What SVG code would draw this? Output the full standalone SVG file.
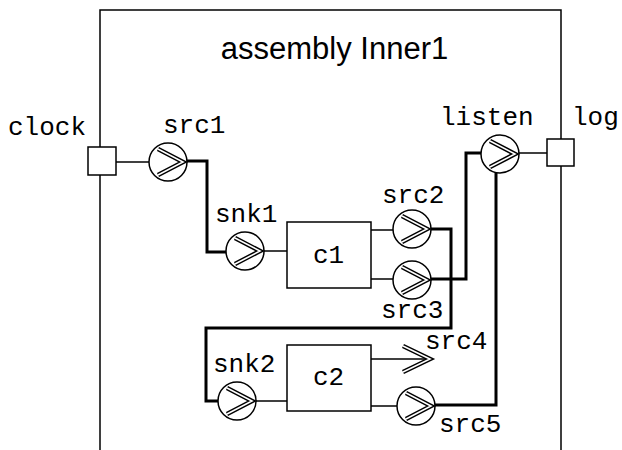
<svg xmlns="http://www.w3.org/2000/svg" width="622" height="450" viewBox="0 0 622 450">
<style>
.lbl{font-family:"Liberation Mono","DejaVu Sans Mono",monospace;font-size:26px;fill:#000}
.title{font-family:"Liberation Sans",Arial,sans-serif;font-size:31px;fill:#000;text-anchor:middle}
.thin{fill:none;stroke:#000;stroke-width:1.5}
.thick{fill:none;stroke:#000;stroke-width:3}
.box{fill:#fff;stroke:#000;stroke-width:1.5}
.circ{fill:#fff;stroke:#000;stroke-width:1.5}
.chevo{fill:none;stroke:#000;stroke-width:4.5;stroke-linejoin:miter}
.chevi{fill:none;stroke:#fff;stroke-width:1.6;stroke-linejoin:miter}
</style>
<defs>
<g id="port">
<circle class="circ" cx="0" cy="0" r="19"/>
<path class="chevo" d="M-10,-13 L15,0 L-10,13"/>
<path class="chevi" d="M-10,-13 L15,0 L-10,13"/>
</g>
</defs>
<rect width="622" height="450" fill="#fff"/>
<g id="assembly">
<path class="thin" d="M100,460 V10 H561 V460"/>
<text class="title" x="334.5" y="59">assembly Inner1</text>
</g>
<g id="connectors">
<path class="thin" d="M116,162 H149"/>
<path class="thin" d="M519,153 H547"/>
<path class="thin" d="M264,251 H287"/>
<path class="thin" d="M371,230 H393"/>
<path class="thin" d="M371,279 H393"/>
<path class="thin" d="M256,401 H287"/>
<path class="thin" d="M371,359 H428"/>
<path class="thin" d="M371,406 H397"/>
<path class="thick" d="M187,161 H207 V252 H226"/>
<path class="thick" d="M431,229 H451 V328 H206 V401 H218"/>
<path class="thick" d="M431,279 H466 V153 H481"/>
<path class="thick" d="M435,405 H496 V173"/>
</g>
<g id="clock">
<rect class="box" x="88" y="147" width="28" height="28"/>
<text class="lbl" x="8" y="135">clock</text>
</g>
<g id="log">
<rect class="box" x="547" y="139" width="27" height="27"/>
<text class="lbl" x="572" y="125">log</text>
</g>
<g id="src1">
<use href="#port" x="168" y="162"/>
<text class="lbl" x="163" y="133">src1</text>
</g>
<g id="snk1">
<use href="#port" x="245" y="251"/>
<text class="lbl" x="215" y="222">snk1</text>
</g>
<g id="c1">
<rect class="box" x="287" y="222" width="84" height="66"/>
<text class="lbl" x="313" y="263">c1</text>
</g>
<g id="src2">
<use href="#port" x="412" y="229"/>
<text class="lbl" x="382" y="203">src2</text>
</g>
<g id="src3">
<use href="#port" x="412" y="280"/>
<text class="lbl" x="381" y="318">src3</text>
</g>
<g id="listen">
<use href="#port" x="500" y="154"/>
<text class="lbl" x="440" y="125">listen</text>
</g>
<g id="snk2">
<use href="#port" x="237" y="401"/>
<text class="lbl" x="213" y="372">snk2</text>
</g>
<g id="c2">
<rect class="box" x="287" y="345" width="84" height="66"/>
<text class="lbl" x="313" y="385">c2</text>
</g>
<g id="src4">
<path class="chevo" d="M403,346 L430,359 L403,372"/>
<path class="chevi" d="M403,346 L430,359 L403,372"/>
<text class="lbl" x="425" y="349">src4</text>
</g>
<g id="src5">
<use href="#port" x="416" y="406"/>
<text class="lbl" x="439" y="432">src5</text>
</g>
</svg>
